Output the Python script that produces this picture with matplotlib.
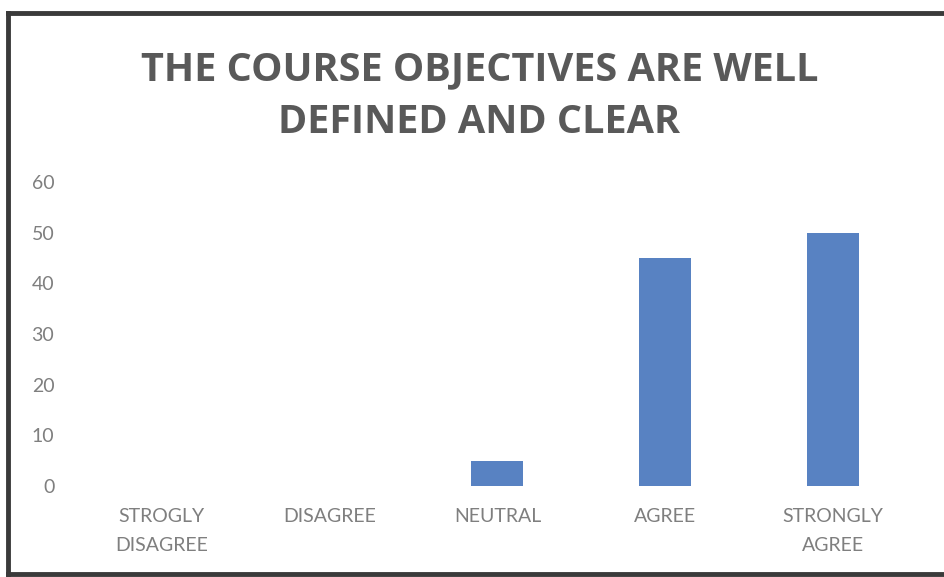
import matplotlib.pyplot as plt
from matplotlib.lines import Line2D

categories = ['STROGLY\nDISAGREE', 'DISAGREE', 'NEUTRAL', 'AGREE', 'STRONGLY\nAGREE']
values = [0, 0, 5, 45, 50]
yticks = [0, 10, 20, 30, 40, 50, 60]

fig = plt.figure(figsize=(9.44, 5.77), dpi=100)
ax = fig.add_axes([0.0826, 0.1577, 0.8888, 0.5269])

ax.bar(range(len(categories)), values, width=0.31, color='#5882C2')
ax.set_xlim(-0.5, len(categories) - 0.5)
ax.set_ylim(0, 60)
ax.set_yticks(yticks)
ax.set_xticks(range(len(categories)))
ax.set_xticklabels(categories, fontsize=14, color='#7f7f7f', family='Lato', linespacing=1.85)
for label in ax.get_yticklabels():
    label.set_fontsize(14)
    label.set_color('#7f7f7f')
    label.set_family('Lato')
ax.tick_params(length=0)
ax.tick_params(axis='x', pad=16)
ax.tick_params(axis='y', pad=17)
for s in ax.spines.values():
    s.set_visible(False)

fig.text(0.508, 0.834, 'THE COURSE OBJECTIVES ARE WELL\nDEFINED AND CLEAR', ha='center', va='center',
         fontsize=28.5, fontweight='bold', color='#595959', family='Open Sans', linespacing=1.45)

# scanned frame around the chart
frame = dict(color='#3a3a3a', linewidth=3.5, transform=fig.transFigure)
fig.add_artist(Line2D([0.008, 1.0], [0.977, 0.977], **frame))
fig.add_artist(Line2D([0.008, 0.008], [0.005, 0.977], **frame))
fig.add_artist(Line2D([0.008, 1.0], [0.005, 0.005], **frame))

fig.savefig('out.png', dpi=100)
